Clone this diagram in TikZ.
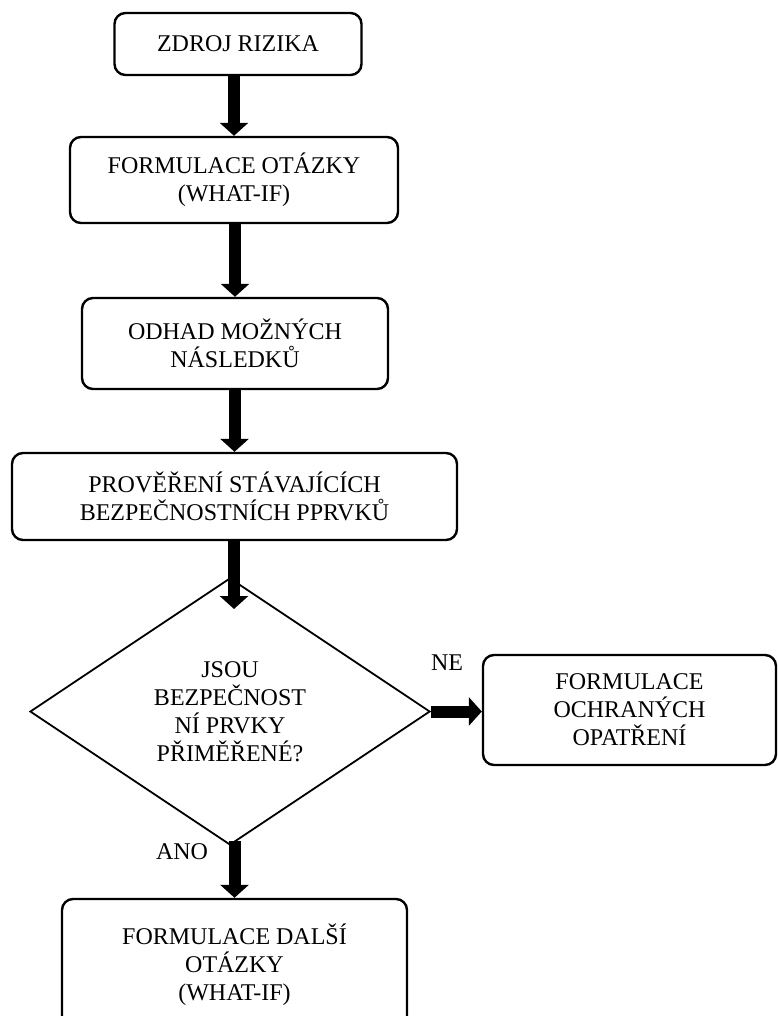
\documentclass[tikz,border=0pt]{standalone}
\usepackage{fontspec}
\setmainfont{Liberation Serif}
\usetikzlibrary{shapes.geometric,arrows.meta}

\begin{document}
\begin{tikzpicture}[
    x=1pt, y=-1pt,
    % Styly uzlu
    krok/.style={rectangle, rounded corners=11pt, draw=black, line width=2.4pt,
                 align=center, inner sep=0pt, font=\fontsize{24}{28}\selectfont},
    rozhodnuti/.style={diamond, draw=black, line width=1.8pt, align=center, inner sep=0pt,
                       minimum width=400pt, minimum height=267pt, font=\fontsize{24}{28}\selectfont},
    % Styl sipek
    sipka/.style={-{Triangle[width=28pt,length=13pt]}, line width=12pt, color=black},
    % Styl popisku
    popis/.style={font=\fontsize{24}{28}\selectfont}
]
\useasboundingbox (0,0) rectangle (777,1016);

% ==========================================
% HLAVNI POSTUP
% ==========================================
\node[krok, minimum width=247pt, minimum height=62pt] (zdroj) at (238, 44) {ZDROJ RIZIKA};
\node[krok, minimum width=328pt, minimum height=86pt] (formulace) at (234, 180) {FORMULACE OTÁZKY\\(WHAT-IF)};
\node[krok, minimum width=306pt, minimum height=91pt] (odhad) at (235, 343.5) {ODHAD MOŽNÝCH\\NÁSLEDKŮ};
\node[krok, minimum width=445pt, minimum height=87pt] (provereni) at (234.5, 496.5) {PROVĚŘENÍ STÁVAJÍCÍCH\\BEZPEČNOSTNÍCH PPRVKŮ};

% Rozhodnuti
\node[rozhodnuti] (otazka) at (230, 711.5) {JSOU\\BEZPEČNOST\\NÍ PRVKY\\PŘIMĚŘENÉ?};
\coordinate (vstup) at (234, 609);

% Vetve
\node[krok, minimum width=293pt, minimum height=110pt] (ochrana) at (629.5, 710) {FORMULACE\\OCHRANÝCH\\OPATŘENÍ};
\node[krok, minimum width=345pt, minimum height=132pt] (dalsi) at (234.5, 965) {FORMULACE DALŠÍ\\OTÁZKY\\(WHAT-IF)};

\node[popis] (ne) at (447, 663) {NE};
\node[popis] (ano) at (182, 852) {ANO};

% Sipky
\draw[sipka] (zdroj.south -| formulace.north) -- (formulace.north);
\draw[sipka] (formulace.south -| odhad.north) -- (odhad.north);
\draw[sipka] (odhad.south -| provereni.north) -- (provereni.north);
\draw[sipka] (provereni.south -| vstup) -- (vstup);
\draw[sipka] (otazka.east) -- (ochrana.west |- otazka.east);
\draw[sipka] ([yshift=5pt]otazka.south -| dalsi.north) -- (dalsi.north);

\end{tikzpicture}
\end{document}
